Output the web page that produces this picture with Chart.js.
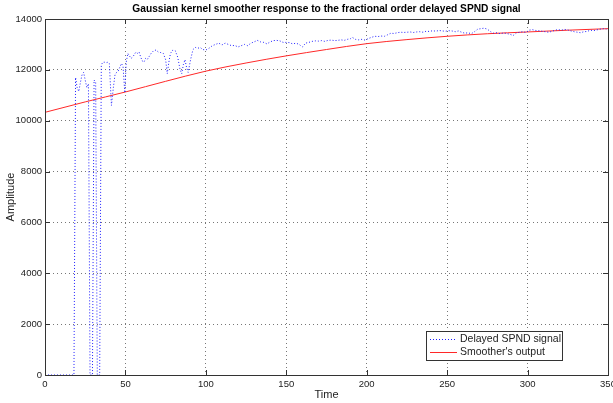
<!DOCTYPE html>
<html>
<head>
<meta charset="utf-8">
<script src="https://cdn.jsdelivr.net/npm/chart.js@4.4.1/dist/chart.umd.min.js"></script>
<style>
  html, body { margin: 0; padding: 0; background: #fff; }
  #chart { display: block; }
</style>
</head>
<body>
<canvas id="chart" width="613" height="403"></canvas>
<script>
// values
const signalTime = [
  0, 5, 10, 15, 18, 19, 20, 21, 22, 23, 24, 25, 26, 27, 28, 29.5, 30.5, 31.5, 32.5, 34,
  35, 36, 37, 38, 39, 40, 41.3, 42.5, 43.5, 44.5, 45.5, 46.5, 47.5, 48.5, 49.6, 50.5,
  51.5, 52.5, 53.5, 54.5, 55.5, 56.5, 57.5, 58.5, 59.5, 60.5, 61.5, 62.5, 63.5, 64.5,
  66, 67.5, 69, 70.5, 72, 73.5, 75, 76, 77, 78, 79.5, 81, 82.5, 84, 85, 86, 87, 88, 89,
  90.5, 92, 93.5, 95, 96.5, 98, 100, 102, 104, 106, 108, 110, 112, 114, 116, 118, 120,
  122, 124, 126, 128, 130, 132, 134, 136, 138, 140, 142, 144, 146, 148, 150, 152, 154,
  156, 158, 160, 162, 164, 166, 168, 170, 172, 174, 176, 178, 180, 182, 184, 186, 188,
  190, 191, 193, 195, 197, 199, 201, 203, 205, 207, 209, 211, 213, 215, 217, 219, 221,
  223, 225, 227, 229, 231, 233, 235, 237, 239, 241, 243, 245, 247, 249, 251, 253, 255,
  257, 259, 261, 263, 265, 267, 269, 271, 273, 275, 277, 279, 281, 283, 285, 287, 289,
  291, 293, 295, 297, 299, 301, 303, 305, 307, 309, 311, 313, 315, 317, 319, 321, 323,
  325, 327, 329, 331, 333, 335, 337, 339, 341, 343, 345, 347, 349
];
const signalValue = [
  0, 0, 0, 0, 0, 11700, 11300, 11150, 11500, 11800, 11900, 11600, 11300, 11450, 0, 0, 11600, 11500, 0, 0,
  12200, 12300, 12300, 12280, 12300, 12250, 10600, 11300, 11800, 11900, 11950, 12100, 12250, 12150, 11100, 12300,
  12650, 12550, 12450, 12500, 12600, 12700, 12650, 12700, 12500, 12350, 12300, 12450, 12400, 12500,
  12650, 12750, 12780, 12700, 12680, 12650, 12400, 11850, 12300, 12650, 12780, 12750, 12500, 12000, 11850, 12200, 12400, 12100, 11900,
  12400, 12800, 12880, 12850, 12880, 12800, 12780, 12850, 12950, 13000, 13050, 12980, 13050, 13000, 12950, 12960, 12900,
  12950, 13000, 12950, 13050, 13100, 13160, 13100, 13080, 13020, 13100, 13150, 13160, 13140, 13080, 13080, 13070, 13020,
  13050, 13000, 12900, 13050, 13080, 13120, 13140, 13130, 13150, 13120, 13160, 13170, 13150, 13160, 13180, 13160, 13200,
  13230, 13280, 13200, 13180, 13200, 13170, 13230, 13280, 13320, 13310, 13330, 13320, 13380, 13440, 13430, 13460, 13480,
  13470, 13480, 13490, 13470, 13490, 13500, 13480, 13520, 13510, 13540, 13520, 13550, 13530, 13520, 13540, 13530, 13500,
  13530, 13480, 13440, 13460, 13420, 13500, 13600, 13620, 13640, 13600, 13500, 13440, 13460, 13420, 13450, 13430, 13400,
  13350, 13450, 13480, 13500, 13470, 13560, 13580, 13550, 13540, 13520, 13500, 13480, 13510, 13560, 13580, 13560, 13590,
  13570, 13530, 13500, 13480, 13460, 13500, 13510, 13560, 13540, 13570, 13600, 13620, 13600
];

const smoothTime = [0, 25, 50, 75, 100, 125, 150, 175, 200, 225, 250, 275, 300, 325, 350];
const smoothValue = [10330, 10740, 11130, 11550, 11950, 12270, 12550, 12800, 13030, 13190, 13320, 13420, 13490, 13560, 13620];

const xTicks = [0, 50, 100, 150, 200, 250, 300, 350];
const yTicks = [0, 2000, 4000, 6000, 8000, 10000, 12000, 14000];

const titleText = 'Gaussian kernel smoother response to the fractional order delayed SPND signal';
const FONT = '"Liberation Sans", Arial, sans-serif';

function toPoints(xs, ys) {
    return xs.map((x, i) => ({ x: x, y: ys[i] }));
}

// box, inner ticks, titles and the legend, MATLAB style
const matlabFrame = {
    id: 'matlabFrame',
    afterDraw(chart) {
        const ctx = chart.ctx;
        const a = chart.chartArea;
        const xs = chart.scales.x;
        const ys = chart.scales.y;

        ctx.save();
        ctx.strokeStyle = '#333';
        ctx.lineWidth = 1;
        ctx.setLineDash([]);
        ctx.strokeRect(Math.round(a.left) + 0.5, Math.round(a.top) + 0.5,
            Math.round(a.right - a.left), Math.round(a.bottom - a.top));

        ctx.beginPath();
        xTicks.forEach(v => {
            const px = Math.round(xs.getPixelForValue(v)) + 0.5;
            ctx.moveTo(px, a.bottom); ctx.lineTo(px, a.bottom - 5);
            ctx.moveTo(px, a.top); ctx.lineTo(px, a.top + 5);
        });
        yTicks.forEach(v => {
            const py = Math.round(ys.getPixelForValue(v)) + 0.5;
            ctx.moveTo(a.left, py); ctx.lineTo(a.left + 5, py);
            ctx.moveTo(a.right, py); ctx.lineTo(a.right - 5, py);
        });
        ctx.stroke();

        ctx.fillStyle = '#000';
        ctx.font = 'bold 10.2px ' + FONT;
        ctx.textAlign = 'center';
        ctx.textBaseline = 'middle';
        ctx.fillText(titleText, (a.left + a.right) / 2, 9);

        ctx.fillStyle = '#222';
        ctx.font = '11px ' + FONT;
        ctx.fillText('Time', (a.left + a.right) / 2, 395);
        ctx.save();
        ctx.translate(11, (a.top + a.bottom) / 2);
        ctx.rotate(-Math.PI / 2);
        ctx.fillText('Amplitude', 0, 0);
        ctx.restore();

        // legend
        const lx = 426, ly = 331, lw = 136, lh = 29;
        ctx.fillStyle = '#fff';
        ctx.fillRect(lx, ly, lw, lh);
        ctx.strokeStyle = '#333';
        ctx.strokeRect(lx + 0.5, ly + 0.5, lw, lh);
        ctx.font = '10.5px ' + FONT;
        ctx.textAlign = 'left';
        chart.data.datasets.forEach((ds, i) => {
            const yy = ly + 8 + i * 13 + 0.5;
            ctx.strokeStyle = ds.borderColor;
            ctx.setLineDash(ds.borderDash || []);
            ctx.beginPath();
            ctx.moveTo(lx + 4, yy);
            ctx.lineTo(lx + 31, yy);
            ctx.stroke();
            ctx.setLineDash([]);
            ctx.fillStyle = '#222';
            ctx.fillText(ds.label, lx + 34, yy);
        });
        ctx.restore();
    }
};

new Chart(document.getElementById('chart'), {
    type: 'line',
    data: {
        datasets: [
            {
                label: 'Delayed SPND signal',
                data: toPoints(signalTime, signalValue),
                borderColor: 'rgb(30,30,255)',
                borderWidth: 1,
                borderDash: [1, 2],
                pointRadius: 0,
                tension: 0,
                fill: false
            },
            {
                label: "Smoother's output",
                data: toPoints(smoothTime, smoothValue),
                borderColor: 'rgb(255,40,40)',
                borderWidth: 1,
                pointRadius: 0,
                cubicInterpolationMode: 'monotone',
                fill: false
            }
        ]
    },
    options: {
        responsive: false,
        animation: false,
        events: [],
        layout: { padding: { top: 19, right: 5, left: 0, bottom: 0 } },
        plugins: {
            legend: { display: false },
            title: { display: false },
            tooltip: { enabled: false }
        },
        scales: {
            x: {
                type: 'linear',
                min: 0,
                max: 350,
                afterFit: s => { s.height = 28; s.paddingRight = 0; s.paddingLeft = 0; },
                afterBuildTicks: s => { s.ticks = xTicks.map(v => ({ value: v })); },
                grid: { color: '#777', lineWidth: 1, drawTicks: false },
                border: { display: false, dash: [1, 3] },
                ticks: { padding: 4, color: '#222', font: { family: FONT, size: 9.5 }, maxRotation: 0,
                         callback: v => String(v) }
            },
            y: {
                type: 'linear',
                min: 0,
                max: 14000,
                afterFit: s => { s.width = 45; s.paddingTop = 0; s.paddingBottom = 0; },
                afterBuildTicks: s => { s.ticks = yTicks.map(v => ({ value: v })); },
                grid: { color: '#777', lineWidth: 1, drawTicks: false },
                border: { display: false, dash: [1, 3] },
                ticks: { padding: 3, color: '#222', font: { family: FONT, size: 9.5 },
                         callback: v => String(v) }
            }
        }
    },
    plugins: [matlabFrame]
});
</script>
</body>
</html>
